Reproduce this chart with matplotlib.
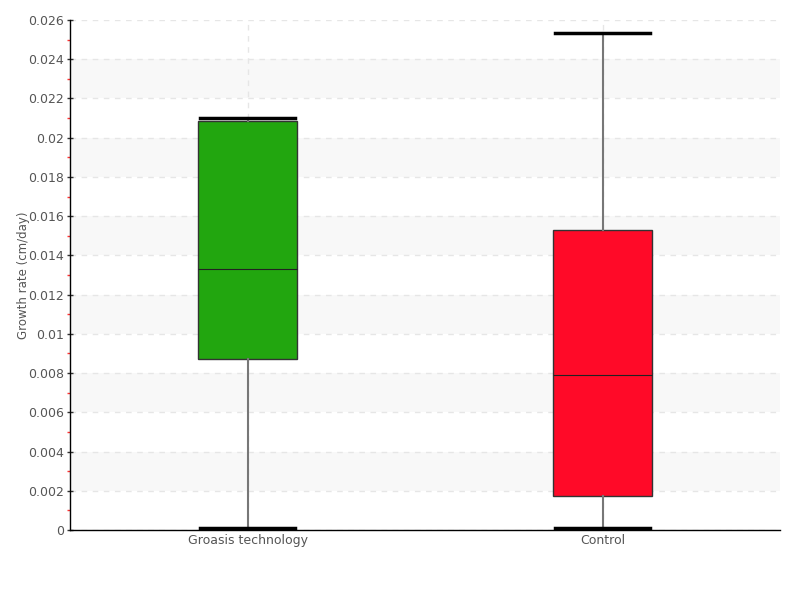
import matplotlib
matplotlib.use("Agg")
import matplotlib.pyplot as plt
from matplotlib.ticker import MultipleLocator, FuncFormatter

plt.rcParams['font.family'] = ['DejaVu Sans']

categories = ["Groasis technology", "Control"]
whisker_low = [0.0001, 0.0001]
q1 = [0.0087, 0.00173]
median = [0.01331, 0.0079]
q3 = [0.02085, 0.01529]
whisker_high = [0.0210, 0.02534]
colors = ["#22a60f", "#ff0a28"]

fig = plt.figure(figsize=(8, 6), dpi=100)
ax = fig.add_axes([70/800, 1-530/600, 710/800, 510/600])

stats = []
for i, c in enumerate(categories):
    stats.append(dict(label=c, whislo=whisker_low[i], q1=q1[i], med=median[i],
                      q3=q3[i], whishi=whisker_high[i], fliers=[]))

positions = list(range(len(categories)))
bp = ax.bxp(stats, positions=positions, widths=0.28, patch_artist=True,
            showfliers=False,
            boxprops=dict(edgecolor="#333333", linewidth=1),
            medianprops=dict(color="#222222", linewidth=0.8),
            whiskerprops=dict(color="#777777", linewidth=1.5),
            capprops=dict(color="black", linewidth=2.5),
            capwidths=0.27)
for patch, col in zip(bp["boxes"], colors):
    patch.set_facecolor(col)
    patch.set_zorder(3)
for k in ("whiskers", "caps", "medians"):
    for l in bp[k]:
        l.set_zorder(4)

ymax = 0.026
ax.set_ylim(0, ymax)
ax.set_xlim(-0.5, 1.5)

# alternating bands
k = 1
while k * 0.002 < ymax:
    if k % 2 == 1:
        ax.axhspan(k * 0.002, (k + 1) * 0.002, color="#f8f8f8", zorder=0, lw=0)
    k += 1

ax.yaxis.set_major_locator(MultipleLocator(0.002))
ax.yaxis.set_minor_locator(MultipleLocator(0.001))
ax.yaxis.set_major_formatter(FuncFormatter(lambda v, p: "%g" % round(v, 6)))
ax.grid(axis="y", which="major", color="#e6e6e6", linestyle=(0, (4, 4)), linewidth=1, zorder=1)
ax.grid(axis="x", which="major", color="#e6e6e6", linestyle=(0, (4, 4)), linewidth=1, zorder=1)
ax.set_axisbelow(True)

ax.set_xticks(positions)
ax.set_xticklabels(categories)

for s in ("top", "right"):
    ax.spines[s].set_visible(False)
for s in ("left", "bottom"):
    ax.spines[s].set_color("black")
    ax.spines[s].set_linewidth(1)

ax.tick_params(axis="y", which="major", direction="inout", length=5, width=1,
               color="#333333", labelsize=9, labelcolor="#555555", pad=2)
ax.tick_params(axis="y", which="minor", direction="out", length=2.5, width=1,
               color="#ff3333")
ax.tick_params(axis="x", which="major", length=0, labelsize=9,
               labelcolor="#555555", pad=3)

ax.set_ylabel("Growth rate (cm/day)", fontsize=8.5, color="#555555")
ax.yaxis.set_label_coords(-0.057, 0.5)

fig.savefig("out.png", dpi=100)
